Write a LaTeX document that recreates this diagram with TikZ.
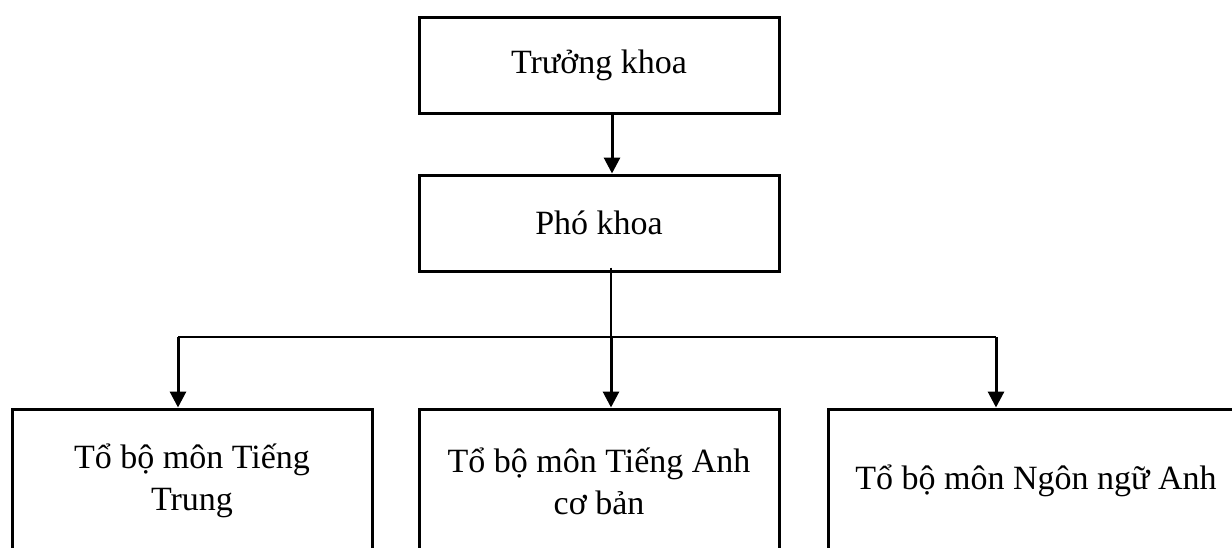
\documentclass[tikz,border=0pt]{standalone}
\usepackage{fontspec}
\setmainfont{Liberation Serif}
\usetikzlibrary{arrows.meta}

\begin{document}
\begin{tikzpicture}[x=1pt,y=-1pt,
  khung/.style={draw, line width=3pt, inner sep=0pt, minimum width=360pt,
    minimum height=96pt, align=center, font=\fontsize{34}{42}\selectfont},
  khungto/.style={khung, minimum height=144pt},
  muiten/.style={-{Triangle[width=16pt,length=16pt]}, line width=3pt},
  mong/.style={line width=1.2pt}]
  \useasboundingbox (0,0) rectangle (1232,547);
  \clip (0,0) rectangle (1232,547);
  % Ban lanh dao khoa
  \node[khung] (truong) at (599,65) {Trưởng khoa};
  \node[khung] (pho) at (599,223) {Phó khoa};
  % Cac to bo mon
  \node[khungto] (tbTrung) at (192,481) {Tổ bộ môn Tiếng\\Trung};
  \node[khungto] (tbAnh) at (599,481) {Tổ bộ môn Tiếng Anh\\cơ bản};
  \node[khungto, minimum width=416pt] (tbNgon) at (1036,481) {Tổ bộ môn Ngôn ngữ Anh};
  % Duong noi
  \coordinate (re) at (611,337);
  \coordinate (reTrung) at (178,337);
  \coordinate (reNgon) at (996,337);
  \draw[muiten] ([xshift=13pt]truong.south) -- ([xshift=13pt]pho.north);
  \draw[mong] ([xshift=12pt,yshift=5pt]pho.south) -- (re);
  \draw[mong] (reTrung) -- (reNgon);
  \draw[muiten] (reTrung) -- (reTrung |- tbTrung.north);
  \draw[muiten] (re) -- (re |- tbAnh.north);
  \draw[muiten] (reNgon) -- (reNgon |- tbNgon.north);
\end{tikzpicture}
\end{document}
